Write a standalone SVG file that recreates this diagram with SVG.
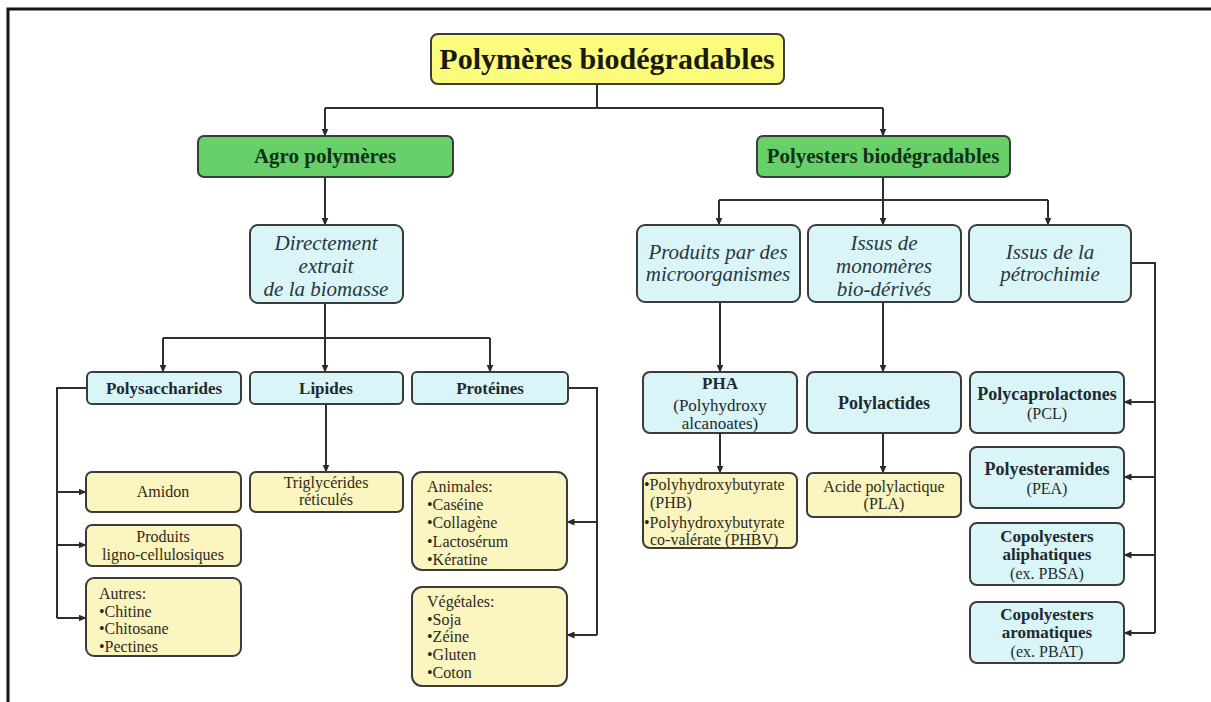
<svg xmlns="http://www.w3.org/2000/svg" width="1211" height="702" viewBox="0 0 1211 702">
<defs>
<marker id="arr" markerWidth="8" markerHeight="7" refX="7.5" refY="3.5" orient="auto" markerUnits="userSpaceOnUse">
<path d="M0,0 L8,3.5 L0,7 z" fill="#2a2a2a"/>
</marker>
<style>
.box{stroke:#3b3b3b;stroke-width:2}
.title{fill:#fcfc7c}
.green{fill:#68d068}
.blue{fill:#daf5f8}
.yel{fill:#fbf5bf}
text{font-family:"Liberation Serif","Times New Roman",serif;fill:#1e2a30}
.c{text-anchor:middle}
.b{font-weight:bold}
.it{font-style:italic;font-size:21px;fill:#2a3640}
.s{font-size:16px;fill:#2e2a1e}
.m{font-size:17px}
.r{font-size:17px}
.con{fill:none;stroke:#2f2f2f;stroke-width:2}
.a{marker-end:url(#arr)}
</style>
</defs>
<rect width="1211" height="702" fill="#ffffff"/>
<path d="M8,702 V9 H1211" fill="none" stroke="#151515" stroke-width="3"/>

<g id="connectors">
<path class="con" d="M597,84 V108 M325,108 H883"/>
<path class="con a" d="M325,108 V136"/>
<path class="con a" d="M883,108 V136"/>
<path class="con a" d="M325,177 V225"/>
<path class="con" d="M883,177 V200 M719,200 H1048"/>
<path class="con a" d="M719,200 V225"/>
<path class="con a" d="M883,200 V225"/>
<path class="con a" d="M1048,200 V225"/>
<path class="con" d="M325,303 V338 M163,338 H490"/>
<path class="con a" d="M163,338 V372"/>
<path class="con a" d="M325,338 V372"/>
<path class="con a" d="M490,338 V372"/>
<path class="con" d="M87,388 H57 V618"/>
<path class="con a" d="M57,492 H86"/>
<path class="con a" d="M57,545 H86"/>
<path class="con a" d="M57,618 H86"/>
<path class="con a" d="M326,404 V472"/>
<path class="con" d="M568,388 H597 V635"/>
<path class="con a" d="M597,522 H567"/>
<path class="con a" d="M597,635 H567"/>
<path class="con a" d="M720,302 V372"/>
<path class="con a" d="M720,433 V473"/>
<path class="con a" d="M883,302 V372"/>
<path class="con a" d="M883,433 V473"/>
<path class="con" d="M1131,263 H1155 V633"/>
<path class="con a" d="M1155,402 H1124"/>
<path class="con a" d="M1155,477 H1124"/>
<path class="con a" d="M1155,555 H1124"/>
<path class="con a" d="M1155,633 H1124"/>
</g>

<g id="n-title"><rect class="box title" x="431" y="34" width="353" height="50" rx="7"/>
<text class="c b" x="607" y="69" font-size="30" style="fill:#1a1a10">Polymères biodégradables</text></g>

<g id="n-agro"><rect class="box green" x="198" y="136" width="255" height="41" rx="6"/>
<text class="c b" x="325" y="163" font-size="21" style="fill:#10301a">Agro polymères</text></g>

<g id="n-polyesters"><rect class="box green" x="757" y="136" width="253" height="41" rx="6"/>
<text class="c b" x="883" y="163" font-size="21" style="fill:#10301a">Polyesters biodégradables</text></g>

<g id="n-directement"><rect class="box blue" x="250" y="225" width="153" height="78" rx="8"/>
<text class="c it" x="326" y="250">Directement</text>
<text class="c it" x="326" y="273">extrait</text>
<text class="c it" x="326" y="296">de la biomasse</text></g>

<g id="n-produits"><rect class="box blue" x="637" y="225" width="163" height="77" rx="8"/>
<text class="c it" x="718" y="259">Produits par des</text>
<text class="c it" x="718" y="281">microorganismes</text></g>

<g id="n-monomeres"><rect class="box blue" x="808" y="225" width="153" height="77" rx="8"/>
<text class="c it" x="884" y="250">Issus de</text>
<text class="c it" x="884" y="273">monomères</text>
<text class="c it" x="884" y="296">bio-dérivés</text></g>

<g id="n-petro"><rect class="box blue" x="969" y="225" width="162" height="77" rx="8"/>
<text class="c it" x="1050" y="259">Issus de la</text>
<text class="c it" x="1050" y="281">pétrochimie</text></g>

<g id="n-polysacch"><rect class="box blue" x="87" y="372" width="154" height="32" rx="5"/>
<text class="c b m" x="164" y="394">Polysaccharides</text></g>

<g id="n-lipides"><rect class="box blue" x="250" y="372" width="153" height="32" rx="5"/>
<text class="c b m" x="326" y="394">Lipides</text></g>

<g id="n-proteines"><rect class="box blue" x="412" y="372" width="156" height="32" rx="5"/>
<text class="c b m" x="490" y="394">Protéines</text></g>

<g id="n-amidon"><rect class="box yel" x="86" y="472" width="155" height="40" rx="6"/>
<text class="c s" x="163" y="497">Amidon</text></g>

<g id="n-ligno"><rect class="box yel" x="86" y="525" width="155" height="41" rx="6"/>
<text class="c s" x="163" y="542">Produits</text>
<text class="c s" x="163" y="560">ligno-cellulosiques</text></g>

<g id="n-autres"><rect class="box yel" x="86" y="578" width="155" height="78" rx="8"/>
<text class="s" x="99" y="599">Autres:</text>
<text class="s" x="99" y="616.5">•Chitine</text>
<text class="s" x="99" y="634">•Chitosane</text>
<text class="s" x="99" y="651.5">•Pectines</text></g>

<g id="n-trigly"><rect class="box yel" x="250" y="472" width="153" height="40" rx="6"/>
<text class="c s" x="326" y="488">Triglycérides</text>
<text class="c s" x="326" y="505">réticulés</text></g>

<g id="n-animales"><rect class="box yel" x="412" y="472" width="155" height="98" rx="10"/>
<text class="s" x="427" y="492">Animales:</text>
<text class="s" x="427" y="510">•Caséine</text>
<text class="s" x="427" y="528">•Collagène</text>
<text class="s" x="427" y="547">•Lactosérum</text>
<text class="s" x="427" y="565">•Kératine</text></g>

<g id="n-vegetales"><rect class="box yel" x="412" y="587" width="155" height="99" rx="10"/>
<text class="s" x="427" y="607">Végétales:</text>
<text class="s" x="427" y="625">•Soja</text>
<text class="s" x="427" y="642">•Zéine</text>
<text class="s" x="427" y="660">•Gluten</text>
<text class="s" x="427" y="678">•Coton</text></g>

<g id="n-pha"><rect class="box blue" x="643" y="372" width="154" height="61" rx="7"/>
<text class="c b m" x="720" y="389">PHA</text>
<text class="c m" x="720" y="411">(Polyhydroxy</text>
<text class="c m" x="720" y="429">alcanoates)</text></g>

<g id="n-phb"><rect class="box yel" x="643" y="473" width="154" height="75" rx="7"/>
<text class="s" x="644" y="490">•Polyhydroxybutyrate</text>
<text class="s" x="650" y="508">(PHB)</text>
<text class="s" x="644" y="528">•Polyhydroxybutyrate</text>
<text class="s" x="650" y="545">co-valérate (PHBV)</text></g>

<g id="n-polylactides"><rect class="box blue" x="807" y="372" width="154" height="61" rx="7"/>
<text class="c b" x="884" y="409" font-size="18">Polylactides</text></g>

<g id="n-acide"><rect class="box yel" x="807" y="473" width="154" height="44" rx="6"/>
<text class="c s" x="884" y="492">Acide polylactique</text>
<text class="c s" x="884" y="509">(PLA)</text></g>

<g id="n-pcl"><rect class="box blue" x="970" y="372" width="154" height="61" rx="7"/>
<text class="c b" x="1047" y="400" font-size="18">Polycaprolactones</text>
<text class="c s" x="1047" y="419" style="fill:#1e2a30">(PCL)</text></g>

<g id="n-pea"><rect class="box blue" x="970" y="447" width="154" height="61" rx="7"/>
<text class="c b" x="1047" y="475" font-size="18">Polyesteramides</text>
<text class="c s" x="1047" y="494" style="fill:#1e2a30">(PEA)</text></g>

<g id="n-aliph"><rect class="box blue" x="970" y="523" width="154" height="62" rx="7"/>
<text class="c b r" x="1047" y="542">Copolyesters</text>
<text class="c b r" x="1047" y="560">aliphatiques</text>
<text class="c s" x="1047" y="579" style="fill:#1e2a30">(ex. PBSA)</text></g>

<g id="n-arom"><rect class="box blue" x="970" y="602" width="154" height="61" rx="7"/>
<text class="c b r" x="1047" y="620">Copolyesters</text>
<text class="c b r" x="1047" y="638">aromatiques</text>
<text class="c s" x="1047" y="657" style="fill:#1e2a30">(ex. PBAT)</text></g>
</svg>
